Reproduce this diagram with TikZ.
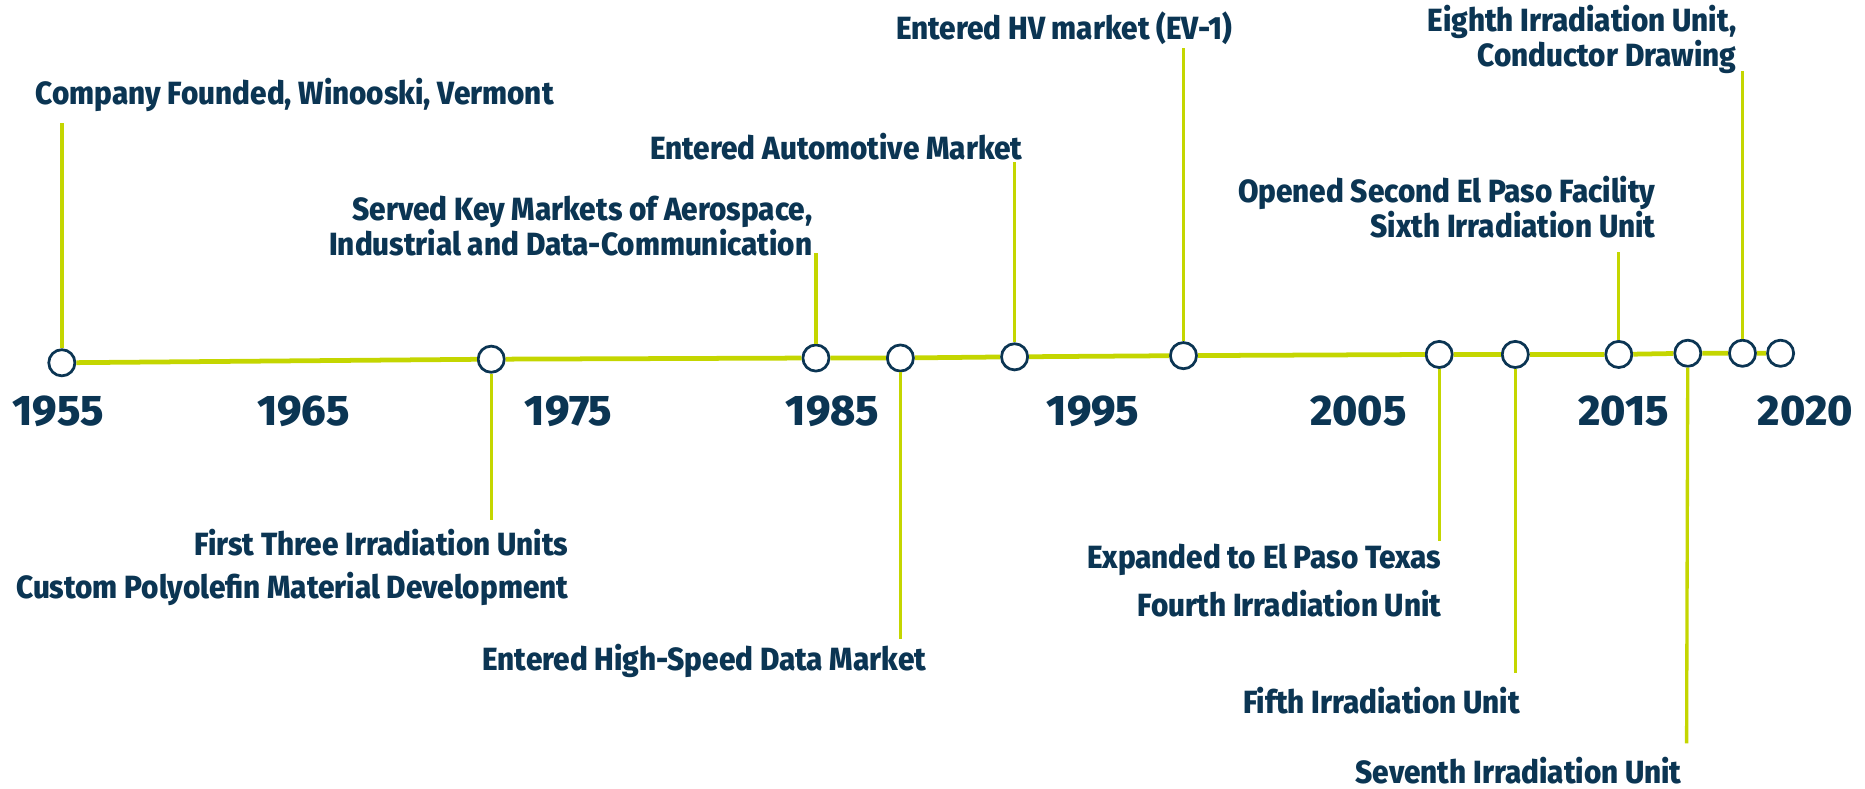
\documentclass[tikz,border=0pt]{standalone}
\usepackage{fontspec}
\setmainfont{Fira Sans}[FakeStretch=0.925, BoldFont={* ExtraBold}]
\newfontfamily\yearfont{Fira Sans}[BoldFont={* ExtraBold}]
\definecolor{navy}{HTML}{0B3553}
\definecolor{lime}{HTML}{C4D600}
\tikzset{
  dot/.style={circle, draw=navy, line width=2.3pt, fill=white, minimum size=22pt, inner sep=0pt},
  tl/.style={draw=lime, line width=4pt},
  stem/.style={draw=lime, line width=2.8pt},
  lbl/.style={text=navy, font=\bfseries\fontsize{27}{27}\selectfont, inner sep=0pt, align=right},
  yr/.style={text=navy, font=\yearfont\bfseries\fontsize{36}{36}\selectfont, inner sep=0pt},
}
\begin{document}
\begin{tikzpicture}[x=1pt, y=-1pt]
\useasboundingbox (0,0) rectangle (1568,663);
% circles
\node[dot] (c1) at (52,305) {};
\node[dot] (c2) at (413,302) {};
\node[dot] (c3) at (686,301) {};
\node[dot] (c4) at (757,301) {};
\node[dot] (c5) at (853,300) {};
\node[dot] (c6) at (995,299) {};
\node[dot] (c7) at (1210,298) {};
\node[dot] (c8) at (1274,298) {};
\node[dot] (c9) at (1361,298) {};
\node[dot] (c10) at (1419,297) {};
\node[dot] (c11) at (1465,297) {};
\node[dot] (c12) at (1497,297) {};
% timeline
\draw[tl] (c1) -- (c2) -- (c3) -- (c4) -- (c5) -- (c6) -- (c7) -- (c8) -- (c9) -- (c10) -- (c11) -- (c12);
% stem ends
\coordinate (s1) at (52,103);
\coordinate (s2) at (413,437);
\coordinate (s3) at (686,213);
\coordinate (s4) at (757,537);
\coordinate (s5) at (853,136);
\coordinate (s6) at (995,40);
\coordinate (s7) at (1210,455);
\coordinate (s8) at (1274,566);
\coordinate (s9) at (1361,212);
\coordinate (s10) at (1418,625);
\coordinate (s11) at (1465,60);
\foreach \i in {1,...,11} {\draw[stem] (c\i) -- (s\i);}
% labels
\node[lbl, anchor=west] (l1) at (30,80) {Company Founded, Winooski, Vermont};
\node[lbl, anchor=east] (l2) at (683,190) {Served Key Markets of Aerospace,\\Industrial and Data-Communication};
\node[lbl, anchor=east] (l3) at (860,123) {Entered Automotive Market};
\node[lbl, anchor=east] (l4) at (1036,24) {Entered HV market (EV-1)};
\node[lbl, anchor=east] (l5) at (1460,33) {Eighth Irradiation Unit,\\Conductor Drawing};
\node[lbl, anchor=east] (l6) at (1392,174) {Opened Second El Paso Facility\\Sixth Irradiation Unit};
\node[lbl, anchor=east] (l7) at (478,477) {First Three Irradiation Units\\[9pt]Custom Polyolefin Material Development};
\node[lbl, anchor=east] (l8) at (779,556) {Entered High-Speed Data Market};
\node[lbl, anchor=east] (l9) at (1212,488) {Expanded to El Paso Texas\\[11pt]Fourth Irradiation Unit};
\node[lbl, anchor=east] (l10) at (1278,589) {Fifth Irradiation Unit};
\node[lbl, anchor=east] (l11) at (1414,648) {Seventh Irradiation Unit};
% years
\node[yr] (y1955) at (49,346) {1955};
\node[yr] (y1965) at (255,346) {1965};
\node[yr] (y1975) at (478,346) {1975};
\node[yr] (y1985) at (700,346) {1985};
\node[yr] (y1995) at (919,346) {1995};
\node[yr] (y2005) at (1142,346) {2005};
\node[yr] (y2015) at (1365,346) {2015};
\node[yr] (y2020) at (1518,346) {2020};
\end{tikzpicture}
\end{document}
